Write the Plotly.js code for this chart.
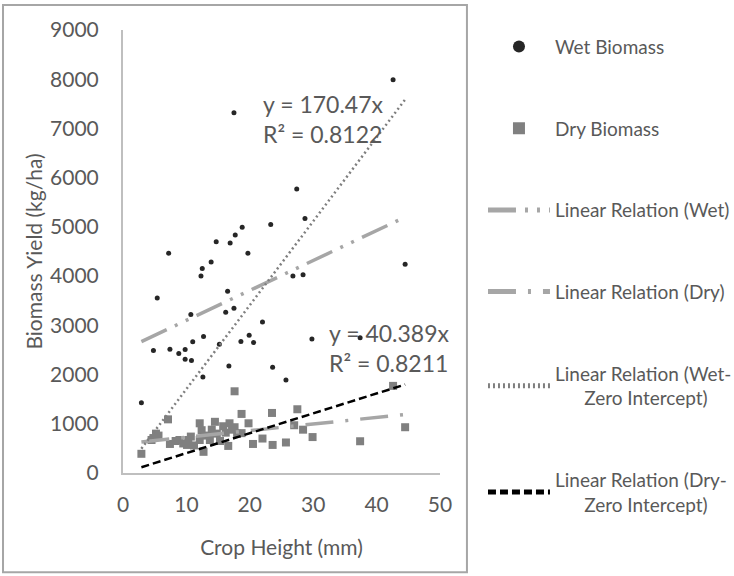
<!DOCTYPE html>
<html>
<head>
<meta charset="utf-8">
<script src="https://cdn.plot.ly/plotly-3.0.1.min.js"></script>
<style>html,body{margin:0;padding:0;background:#fff;}#chart{width:734px;height:576px;}</style>
</head>
<body>
<div id="chart"></div>
<script>
// Wet biomass (crop height mm, yield kg/ha)
var wetX = [2.9, 4.8, 5.4, 7.2, 7.4, 8.8, 9.8, 9.8, 10.7, 10.8, 11.0, 12.3, 12.5, 12.6, 12.7, 13.9, 14.7, 15.2, 16.2, 16.5, 16.7, 16.9, 17.5, 17.5, 17.7, 18.6, 18.8, 19.7, 19.9, 20.6, 22.0, 23.3, 23.6, 25.7, 26.8, 27.4, 28.4, 28.7, 29.8, 37.4, 42.6, 44.5];
var wetY = [1426, 2490, 3557, 4465, 2515, 2428, 2510, 2312, 3220, 2285, 2665, 4000, 4155, 1950, 2775, 4285, 4700, 2617, 3266, 3692, 2175, 4672, 3345, 7320, 4834, 2670, 4995, 4465, 2799, 2650, 3066, 5050, 2150, 1890, 4000, 5770, 4030, 5170, 2724, 2750, 7990, 4240];
// Dry biomass
var dryX = [2.9, 4.5, 4.8, 5.2, 5.6, 7.1, 7.4, 8.3, 8.9, 9.5, 10.1, 10.3, 10.7, 11.2, 12.1, 12.1, 12.4, 12.7, 13.2, 13.7, 14.0, 14.5, 14.8, 15.3, 15.8, 16.2, 16.6, 16.8, 17.2, 17.6, 17.6, 18.0, 18.7, 18.7, 19.8, 20.5, 22.0, 23.5, 23.6, 25.7, 27.0, 27.5, 28.4, 29.9, 37.4, 42.6, 44.5];
var dryY = [390, 670, 710, 800, 760, 1090, 590, 650, 670, 600, 570, 670, 740, 560, 670, 1010, 870, 430, 760, 670, 880, 1040, 800, 650, 950, 820, 550, 1010, 880, 1660, 930, 800, 1200, 810, 1010, 590, 700, 1220, 570, 620, 970, 1295, 880, 730, 645, 1770, 930];
// Fitted relations: [slope, intercept]
var wetFit = [60.8, 2493];
var dryFit = [13.4, 593];
var wetZeroSlope = 170.47;
var dryZeroSlope = 40.389;
var wetR2 = 0.8122;
var dryR2 = 0.8211;
var legendNames = ["Wet Biomass", "Dry Biomass", "Linear Relation (Wet)", "Linear Relation (Dry)",
  "Linear Relation (Wet-<br>\u00a0\u00a0\u00a0\u00a0\u00a0\u00a0Zero Intercept)",
  "Linear Relation (Dry-<br>\u00a0\u00a0\u00a0\u00a0\u00a0\u00a0Zero Intercept)"];

function ext(a){ return [Math.min.apply(null,a), Math.max.apply(null,a)]; }
var wx = ext(wetX), dx = ext(dryX);
function lineY(xs, m, b){ return xs.map(function(x){ return m*x + b; }); }

var FONT = "Lato, 'Open Sans', sans-serif";
var TXT = "#595959";

var traces = [
  {x: wetX, y: wetY, mode: "markers", type: "scatter", name: legendNames[0], legendgroup: "g1",
   marker: {symbol: "circle", size: 5, color: "#262626"}},
  {x: dryX, y: dryY, mode: "markers", type: "scatter", name: legendNames[1], legendgroup: "g2",
   marker: {symbol: "square", size: 8, color: "#808080"}},
  {x: wx, y: lineY(wx, wetFit[0], wetFit[1]), mode: "lines", type: "scatter", name: legendNames[2], legendgroup: "g3",
   line: {color: "#a6a6a6", width: 3.5, dash: "28px,9px,3px,9px,3px,9px"}},
  {x: dx, y: lineY(dx, dryFit[0], dryFit[1]), mode: "lines", type: "scatter", name: legendNames[3], legendgroup: "g4",
   line: {color: "#a6a6a6", width: 3.5, dash: "28px,12px,3px,12px"}},
  {x: wx, y: lineY(wx, wetZeroSlope, 0), mode: "lines", type: "scatter", name: legendNames[4], legendgroup: "g5",
   line: {color: "#7f7f7f", width: 2.5, dash: "2px,3px"}},
  {x: dx, y: lineY(dx, dryZeroSlope, 0), mode: "lines", type: "scatter", name: legendNames[5], legendgroup: "g6",
   line: {color: "#000000", width: 2.5, dash: "8px,4px"}}
];

var layout = {
  width: 734, height: 576,
  margin: {l: 123, r: 294, t: 30, b: 103, autoexpand: false},
  paper_bgcolor: "#ffffff", plot_bgcolor: "#ffffff",
  font: {family: FONT, color: TXT, size: 20},
  showlegend: true,
  legend: {xref: "container", yref: "container", x: 0.658, y: 0.952, xanchor: "left", yanchor: "top",
           font: {size: 19, color: TXT, family: FONT},
           tracegroupgap: 54, itemsizing: "constant", itemwidth: 62, maxheight: 560, bgcolor: "rgba(0,0,0,0)"},
  xaxis: {range: [0, 50], dtick: 10, showgrid: false, zeroline: false, showline: true, linecolor: "#bfbfbf", linewidth: 2,
          ticks: "", ticklabelstandoff: 12, tickfont: {size: 21, color: TXT}, automargin: false,
          title: {text: "Crop Height (mm)", font: {size: 21, color: TXT}, standoff: 25}},
  yaxis: {range: [0, 9000], dtick: 1000, showgrid: false, zeroline: false, showline: true, linecolor: "#bfbfbf", linewidth: 2,
          ticks: "", ticklabelstandoff: 18, tickfont: {size: 21, color: TXT}, automargin: true,
          title: {text: "Biomass Yield (kg/ha)", font: {size: 21, color: TXT}, standoff: 2}},
  annotations: [
    {xref: "x", yref: "y", x: 21.7, y: 7830, xanchor: "left", yanchor: "top", showarrow: false, align: "left",
     text: "y = " + wetZeroSlope + "x<br>R² = " + wetR2, font: {size: 23, color: TXT, family: FONT}},
    {xref: "x", yref: "y", x: 32.1, y: 3165, xanchor: "left", yanchor: "top", showarrow: false, align: "left",
     text: "y = " + dryZeroSlope + "x<br>R² = " + dryR2, font: {size: 23, color: TXT, family: FONT}}
  ],
  shapes: [
    {type: "rect", xref: "paper", yref: "paper", x0: -0.3785, x1: 1.085, y0: -0.224, y1: 1.0564,
     line: {color: "#a6a6a6", width: 2}, fillcolor: "rgba(0,0,0,0)", layer: "below"}
  ]
};

Plotly.newPlot("chart", traces, layout, {displayModeBar: false, staticPlot: true});
</script>
</body>
</html>
